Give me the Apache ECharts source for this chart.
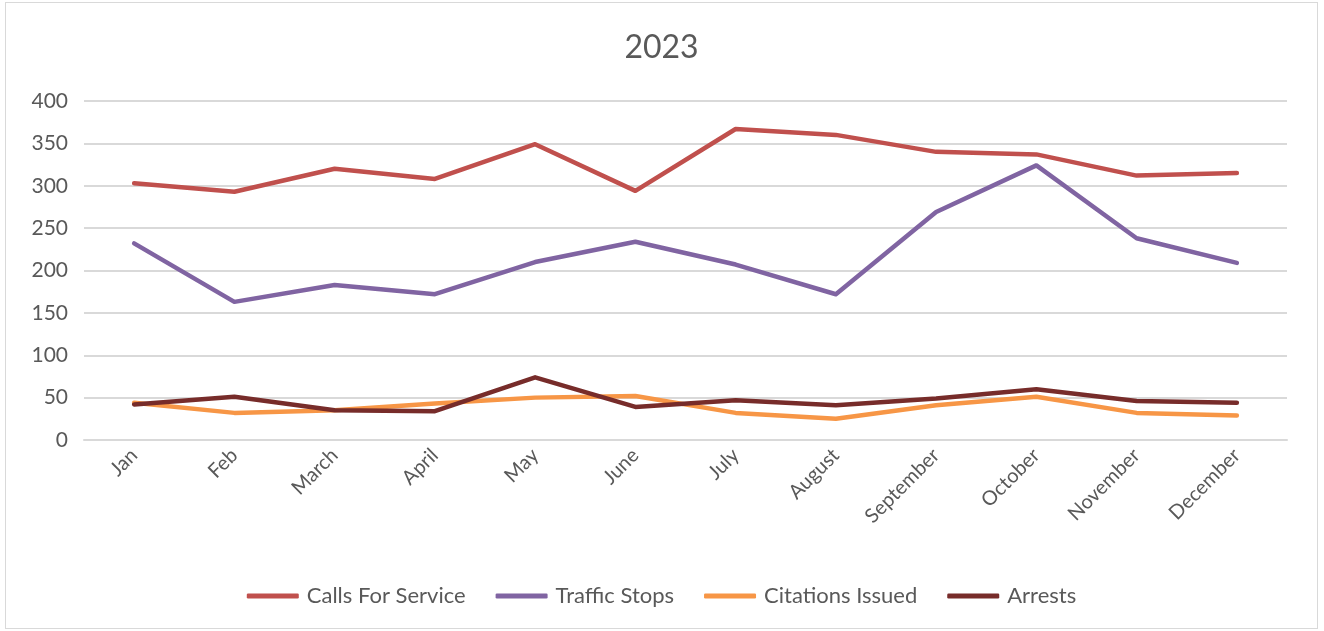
<!DOCTYPE html>
<html>
<head>
<meta charset="utf-8">
<script src="https://cdn.jsdelivr.net/npm/echarts@6/dist/echarts.min.js"></script>
<style>
  html, body { margin: 0; padding: 0; background: #fff; }
  #main { position: absolute; left: 5px; top: 2px; width: 1313px; height: 627px; border: 1px solid #d9d9d9; box-sizing: border-box; }
</style>
</head>
<body>
<div id="main"></div>
<script>
const months = ['Jan', 'Feb', 'March', 'April', 'May', 'June', 'July', 'August', 'September', 'October', 'November', 'December'];
const callsForService = [303, 293, 320, 308, 349, 294, 367, 360, 340, 337, 312, 315];
const trafficStops = [232, 163, 183, 172, 210, 234, 207, 172, 269, 324, 238, 209];
const citationsIssued = [44, 32, 35, 43, 50, 52, 32, 25, 41, 51, 32, 29];
const arrests = [42, 51, 35, 34, 74, 39, 47, 41, 49, 60, 46, 44];

let chartDom = document.getElementById('main');
let myChart = echarts.init(chartDom);
let font = 'Lato, "Open Sans", sans-serif';

function lineSeries(name, data, color) {
  return {
    name: name,
    type: 'line',
    data: data,
    showSymbol: false,
    symbol: 'none',
    lineStyle: { width: 4.5, color: color, cap: 'round', join: 'round' },
    itemStyle: { color: color }
  };
}

let option = {
  animation: false,
  textStyle: { fontFamily: font },
  title: {
    text: '2023',
    left: 'center',
    top: 24,
    textStyle: { fontSize: 32, fontWeight: 'normal', color: '#595959', fontFamily: font }
  },
  legend: {
    top: 577,
    left: 'center',
    itemWidth: 52,
    itemHeight: 5,
    itemGap: 30,
    icon: 'roundRect',
    textStyle: { fontSize: 22, color: '#595959', fontFamily: font, padding: [0, 0, 0, 3] },
    data: ['Calls For Service', 'Traffic Stops', 'Citations Issued', 'Arrests']
  },
  grid: {
    left: 78,
    right: 30,
    top: 98,
    bottom: 188
  },
  xAxis: {
    type: 'category',
    data: months,
    boundaryGap: true,
    axisLine: { show: true, lineStyle: { color: '#d9d9d9', width: 2 } },
    axisTick: { show: false },
    axisLabel: { rotate: 45, fontSize: 20, color: '#595959', margin: 12, fontFamily: font }
  },
  yAxis: {
    type: 'value',
    min: 0,
    max: 400,
    interval: 50,
    axisLine: { show: false },
    axisTick: { show: false },
    axisLabel: { fontSize: 21, color: '#595959', margin: 16, fontFamily: font },
    splitLine: { lineStyle: { color: '#d9d9d9', width: 2 } }
  },
  series: [
    lineSeries('Calls For Service', callsForService, '#C0504D'),
    lineSeries('Traffic Stops', trafficStops, '#8064A2'),
    lineSeries('Citations Issued', citationsIssued, '#F79646'),
    lineSeries('Arrests', arrests, '#772C2A')
  ]
};

option && myChart.setOption(option);
</script>
</body>
</html>
